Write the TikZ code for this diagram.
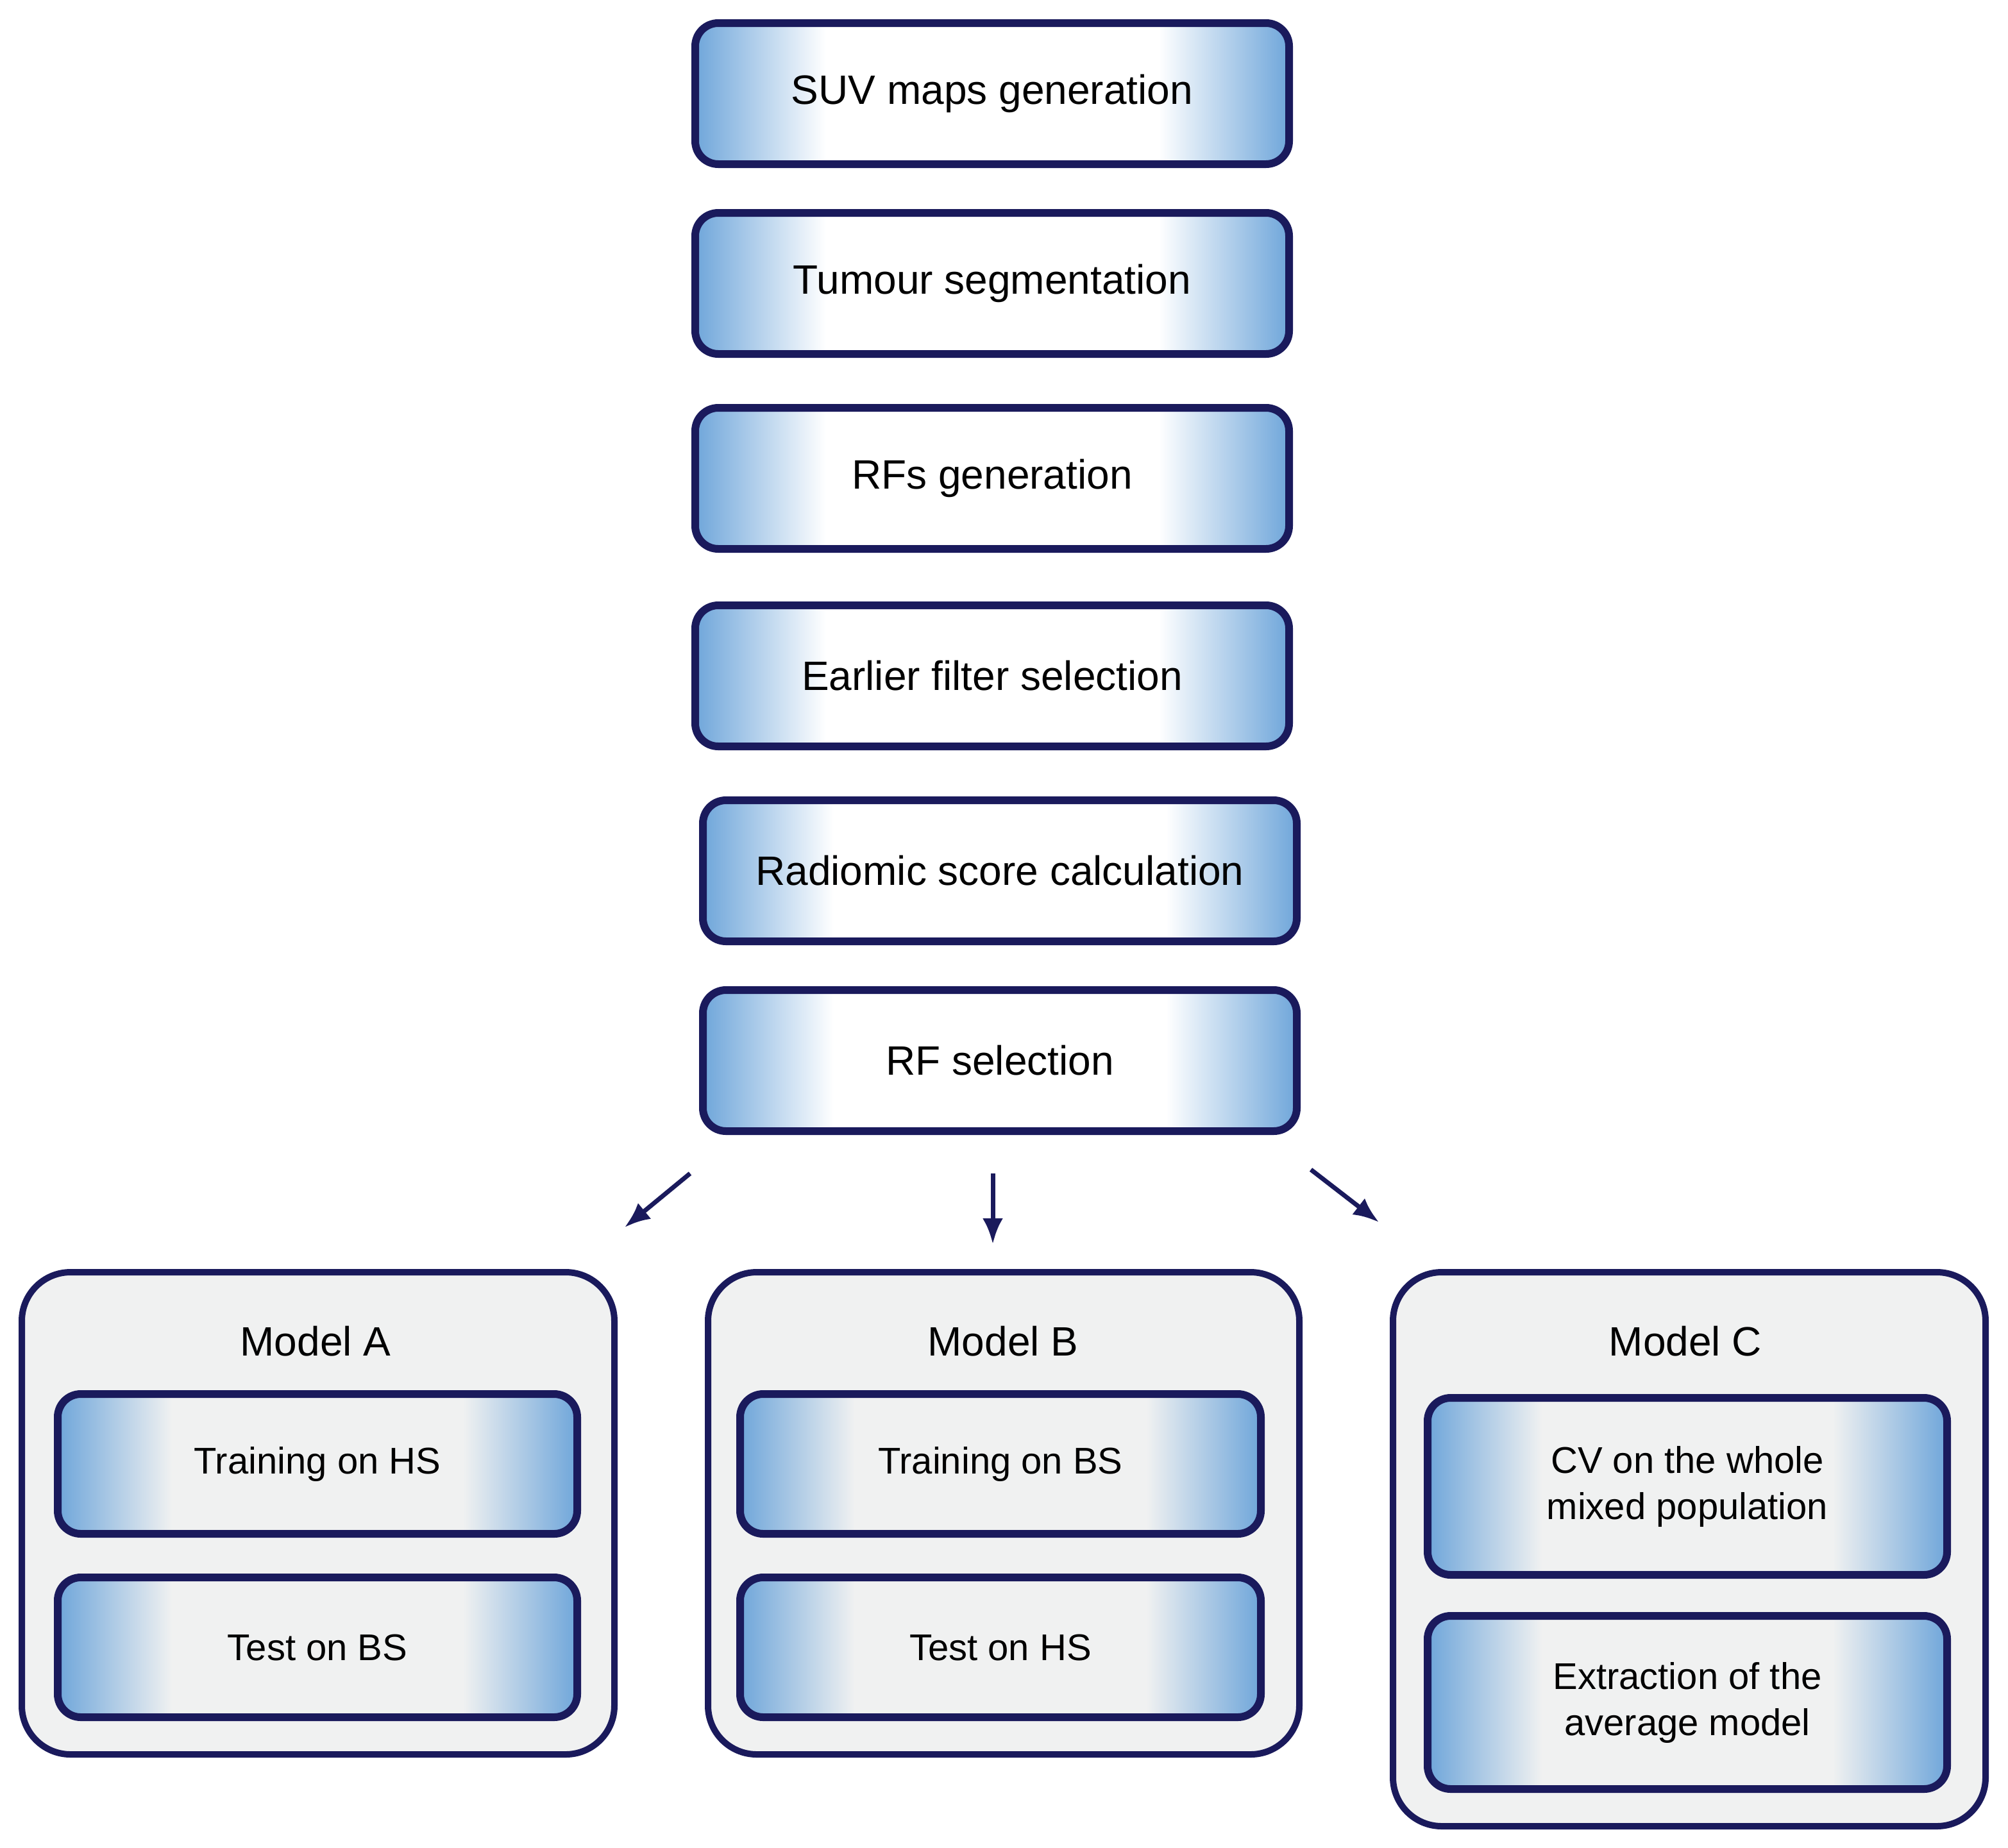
\documentclass[tikz,border=0pt]{standalone}
\usepackage{fontspec}
\setmainfont{Liberation Sans}
\usetikzlibrary{arrows.meta}
\definecolor{navy}{HTML}{1A1A5C}
\definecolor{bl}{HTML}{6FA6DA}
\definecolor{gr}{HTML}{F0F1F1}
\pgfdeclarehorizontalshading{wsh}{100bp}{color(0bp)=(bl); color(25bp)=(bl); color(36bp)=(white); color(64bp)=(white); color(75bp)=(bl); color(100bp)=(bl)}
\pgfdeclarehorizontalshading{gsh}{100bp}{color(0bp)=(bl); color(25bp)=(bl); color(36bp)=(gr); color(64bp)=(gr); color(75bp)=(bl); color(100bp)=(bl)}
\tikzset{
 x=1pt,y=-1pt,
 stepbox/.style={draw=navy,line width=6pt,rounded corners=18pt,shading=wsh},
 sub/.style={draw=navy,line width=6pt,rounded corners=18pt,shading=gsh},
 outer/.style={draw=navy,line width=5pt,rounded corners=38pt,fill=gr},
 big/.style={font=\fontsize{32}{36}\selectfont,align=center},
 sm/.style={font=\fontsize{29}{36}\selectfont,align=center},
 arr/.style={draw=navy,line width=3.5pt,-{Latex[length=20pt,width=16pt]}}
}
\begin{document}
\begin{tikzpicture}
\useasboundingbox (0,0) rectangle (1565.5,1440.5);
\path[stepbox] (542,18) rectangle (1005,128);
\node[big] (s1) at (773.5,73) {SUV maps generation};
\path[stepbox] (542,166) rectangle (1005,276);
\node[big] (s2) at (773.5,221) {Tumour segmentation};
\path[stepbox] (542,318) rectangle (1005,428);
\node[big] (s3) at (773.5,373) {RFs generation};
\path[stepbox] (542,472) rectangle (1005,582);
\node[big] (s4) at (773.5,527) {Earlier filter selection};
\path[stepbox] (548,624) rectangle (1011,734);
\node[big] (s5) at (779.5,679) {Radiomic score calculation};
\path[stepbox] (548,772) rectangle (1011,882);
\node[big] (s6) at (779.5,827) {RF selection};
\coordinate (a1s) at (538,915); \coordinate (a1e) at (487,957);
\coordinate (a2s) at (774,915); \coordinate (a2e) at (774,970);
\coordinate (a3s) at (1022,912); \coordinate (a3e) at (1075,953);
\draw[arr] (a1s) -- (a1e);
\draw[arr] (a2s) -- (a2e);
\draw[arr] (a3s) -- (a3e);
% Model A
\path[outer] (17,992) rectangle (479,1368);
\node[big] (ma) at (246,1046) {Model A};
\path[sub] (45,1087) rectangle (450,1196);
\node[sm] (ma1) at (247.5,1141.5) {Training on HS};
\path[sub] (45,1230) rectangle (450,1339);
\node[sm] (ma2) at (247.5,1284.5) {Test on BS};
% Model B
\path[outer] (552,992) rectangle (1013,1368);
\node[big] (mb) at (782,1046) {Model B};
\path[sub] (577,1087) rectangle (983,1196);
\node[sm] (mb1) at (780,1141.5) {Training on BS};
\path[sub] (577,1230) rectangle (983,1339);
\node[sm] (mb2) at (780,1284.5) {Test on HS};
% Model C
\path[outer] (1086,992) rectangle (1548,1424);
\node[big] (mc) at (1314,1046) {Model C};
\path[sub] (1113,1090) rectangle (1518,1228);
\node[sm] (mc1) at (1315.5,1159) {CV on the whole\\mixed population};
\path[sub] (1113,1260) rectangle (1518,1395);
\node[sm] (mc2) at (1315.5,1327.5) {Extraction of the\\average model};
\end{tikzpicture}
\end{document}
